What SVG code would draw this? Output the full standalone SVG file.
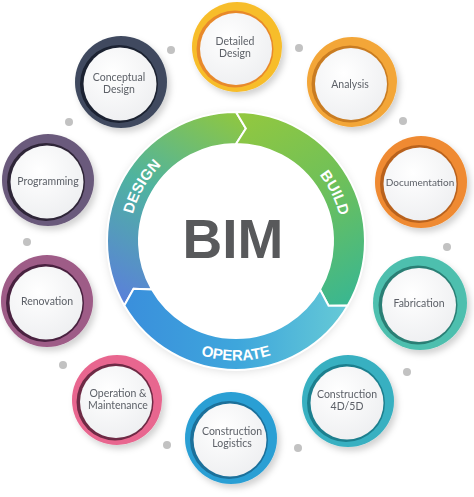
<svg xmlns="http://www.w3.org/2000/svg" width="474" height="497" viewBox="0 0 474 497">
<defs>
<style>
.lbl{font-family:Lato,"Open Sans","Liberation Sans",sans-serif;font-size:10.5px;fill:#5d6168;text-anchor:middle}
.ring{font-family:"Liberation Sans",Arial,sans-serif;font-size:15px;font-weight:bold;fill:#fff}
.face{fill:url(#face)}
.dot{fill:#c2c2c2}
.seg{stroke:#fff;stroke-width:2;stroke-linejoin:miter}
</style>
<filter id="sh" x="-30%" y="-30%" width="170%" height="170%">
<feDropShadow dx="3" dy="4" stdDeviation="3" flood-color="#000" flood-opacity="0.18"/>
</filter>
<filter id="sh2" x="-20%" y="-20%" width="140%" height="140%">
<feDropShadow dx="0" dy="2" stdDeviation="4" flood-color="#000" flood-opacity="0.12"/>
</filter>
<radialGradient id="face" cx="0.4" cy="0.35" r="0.7">
<stop offset="0" stop-color="#ffffff"/>
<stop offset="1" stop-color="#eeeff1"/>
</radialGradient>
<linearGradient id="gDesign" gradientUnits="userSpaceOnUse" x1="126" y1="300" x2="236" y2="112">
<stop offset="0" stop-color="#5a82d8"/>
<stop offset="0.5" stop-color="#4fb3a0"/>
<stop offset="1" stop-color="#8fc740"/>
</linearGradient>
<linearGradient id="gBuild" gradientUnits="userSpaceOnUse" x1="236" y1="112" x2="340" y2="305">
<stop offset="0" stop-color="#94c83e"/>
<stop offset="0.5" stop-color="#6ec05a"/>
<stop offset="1" stop-color="#3bb78f"/>
</linearGradient>
<linearGradient id="gOperate" gradientUnits="userSpaceOnUse" x1="126" y1="300" x2="348" y2="300">
<stop offset="0" stop-color="#3a8fdc"/>
<stop offset="0.5" stop-color="#3ea6dc"/>
<stop offset="1" stop-color="#66cad6"/>
</linearGradient>
<path id="pDesign" d="M 135.92 277.43 A 106.5 106.5 0 0 1 217.51 136.12"/>
<path id="pBuild" d="M 261.76 137.66 A 106.5 106.5 0 0 1 333.29 284.32"/>
<path id="pOperate" d="M 144.46 317.81 A 119.5 119.5 0 0 0 327.54 317.81"/>
</defs>
<rect width="474" height="497" fill="#fff"/>

<g id="dots">
<circle class="dot" cx="299" cy="48" r="4"/>
<circle class="dot" cx="171" cy="50" r="4"/>
<circle class="dot" cx="69" cy="122" r="4"/>
<circle class="dot" cx="403" cy="121" r="4"/>
<circle class="dot" cx="447" cy="247" r="4"/>
<circle class="dot" cx="27" cy="242" r="4"/>
<circle class="dot" cx="63" cy="365" r="4"/>
<circle class="dot" cx="167" cy="445" r="4"/>
<circle class="dot" cx="407" cy="372" r="4"/>
<circle class="dot" cx="298" cy="448" r="4"/>
</g>

<g id="bim-ring">
<circle cx="236" cy="241" r="129" fill="#fff" filter="url(#sh2)"/>
<path class="seg" fill="url(#gDesign)" d="M 124.28 305.5 A 129 129 0 0 1 236 112 L 245.85 128.43 L 236 144 A 97 97 0 0 0 152 289.5 L 133.59 288.76 Z"/>
<path class="seg" fill="url(#gBuild)" d="M 236 112 A 129 129 0 0 1 347.72 305.5 L 328.56 305.81 L 320 289.5 A 97 97 0 0 0 236 144 L 245.85 128.43 Z"/>
<path class="seg" fill="url(#gOperate)" d="M 347.72 305.5 A 129 129 0 0 1 124.28 305.5 L 133.59 288.76 L 152 289.5 A 97 97 0 0 0 320 289.5 L 328.56 305.81 Z"/>
<text class="ring"><textPath href="#pDesign" startOffset="50%" text-anchor="middle">DESIGN</textPath></text>
<text class="ring"><textPath href="#pBuild" startOffset="50%" text-anchor="middle">BUILD</textPath></text>
<text class="ring"><textPath href="#pOperate" startOffset="50%" text-anchor="middle">OPERATE</textPath></text>
<text x="233" y="258" font-family="'Liberation Sans',Arial,sans-serif" font-size="55" font-weight="bold" fill="#58595b" text-anchor="middle">BIM</text>
</g>

<g id="detailed-design" filter="url(#sh)">
<circle cx="237" cy="47" r="45" fill="#f7bd2b"/>
<circle cx="235" cy="49" r="38.5" fill="#e8892b"/>
<circle class="face" cx="236" cy="49" r="36"/>
<text class="lbl" x="235" y="45">Detailed</text>
<text class="lbl" x="235" y="57">Design</text>
</g>

<g id="analysis" filter="url(#sh)">
<circle cx="352" cy="82" r="45" fill="#f3a638"/>
<circle cx="350" cy="84" r="38.5" fill="#c97c20"/>
<circle class="face" cx="351" cy="84" r="36"/>
<text class="lbl" x="350" y="88">Analysis</text>
</g>

<g id="documentation" filter="url(#sh)">
<circle cx="421" cy="182" r="46" fill="#ef8a30"/>
<circle cx="419" cy="184" r="39" fill="#b9621f"/>
<circle class="face" cx="420" cy="184" r="36.5"/>
<text class="lbl" x="420" y="186" style="font-size:10px">Documentation</text>
</g>

<g id="fabrication" filter="url(#sh)">
<circle cx="420" cy="303" r="47" fill="#4dbfae"/>
<circle cx="418" cy="305" r="39.5" fill="#2a7f75"/>
<circle class="face" cx="419" cy="305" r="37"/>
<text class="lbl" x="419" y="307">Fabrication</text>
</g>

<g id="construction-4d5d" filter="url(#sh)">
<circle cx="348" cy="401" r="46" fill="#39b0c1"/>
<circle cx="346" cy="403" r="39" fill="#1d7f8e"/>
<circle class="face" cx="347" cy="403" r="36.5"/>
<text class="lbl" x="347" y="398">Construction</text>
<text class="lbl" x="347" y="410">4D/5D</text>
</g>

<g id="construction-logistics" filter="url(#sh)">
<circle cx="231" cy="438" r="46" fill="#2b9fd4"/>
<circle cx="229" cy="440" r="39" fill="#1a6f9a"/>
<circle class="face" cx="230" cy="440" r="36.5"/>
<text class="lbl" x="232" y="435">Construction</text>
<text class="lbl" x="232" y="447">Logistics</text>
</g>

<g id="operation-maintenance" filter="url(#sh)">
<circle cx="117" cy="400" r="45" fill="#e8668f"/>
<circle cx="115" cy="402" r="38.5" fill="#6e2a44"/>
<circle class="face" cx="116" cy="402" r="36"/>
<text class="lbl" x="118" y="397">Operation &amp;</text>
<text class="lbl" x="118" y="409">Maintenance</text>
</g>

<g id="renovation" filter="url(#sh)">
<circle cx="47" cy="301" r="46" fill="#9e5b87"/>
<circle cx="45" cy="303" r="39" fill="#4a2240"/>
<circle class="face" cx="46" cy="303" r="36.5"/>
<text class="lbl" x="47" y="305">Renovation</text>
</g>

<g id="programming" filter="url(#sh)">
<circle cx="48" cy="180" r="46" fill="#6b5a7b"/>
<circle cx="46" cy="182" r="39" fill="#2f2538"/>
<circle class="face" cx="47" cy="182" r="36.5"/>
<text class="lbl" x="48" y="185">Programming</text>
</g>

<g id="conceptual-design" filter="url(#sh)">
<circle cx="121" cy="82" r="46" fill="#3f4a5f"/>
<circle cx="119" cy="84" r="39" fill="#1c2230"/>
<circle class="face" cx="120" cy="84" r="36.5"/>
<text class="lbl" x="119" y="81">Conceptual</text>
<text class="lbl" x="119" y="93">Design</text>
</g>
</svg>
